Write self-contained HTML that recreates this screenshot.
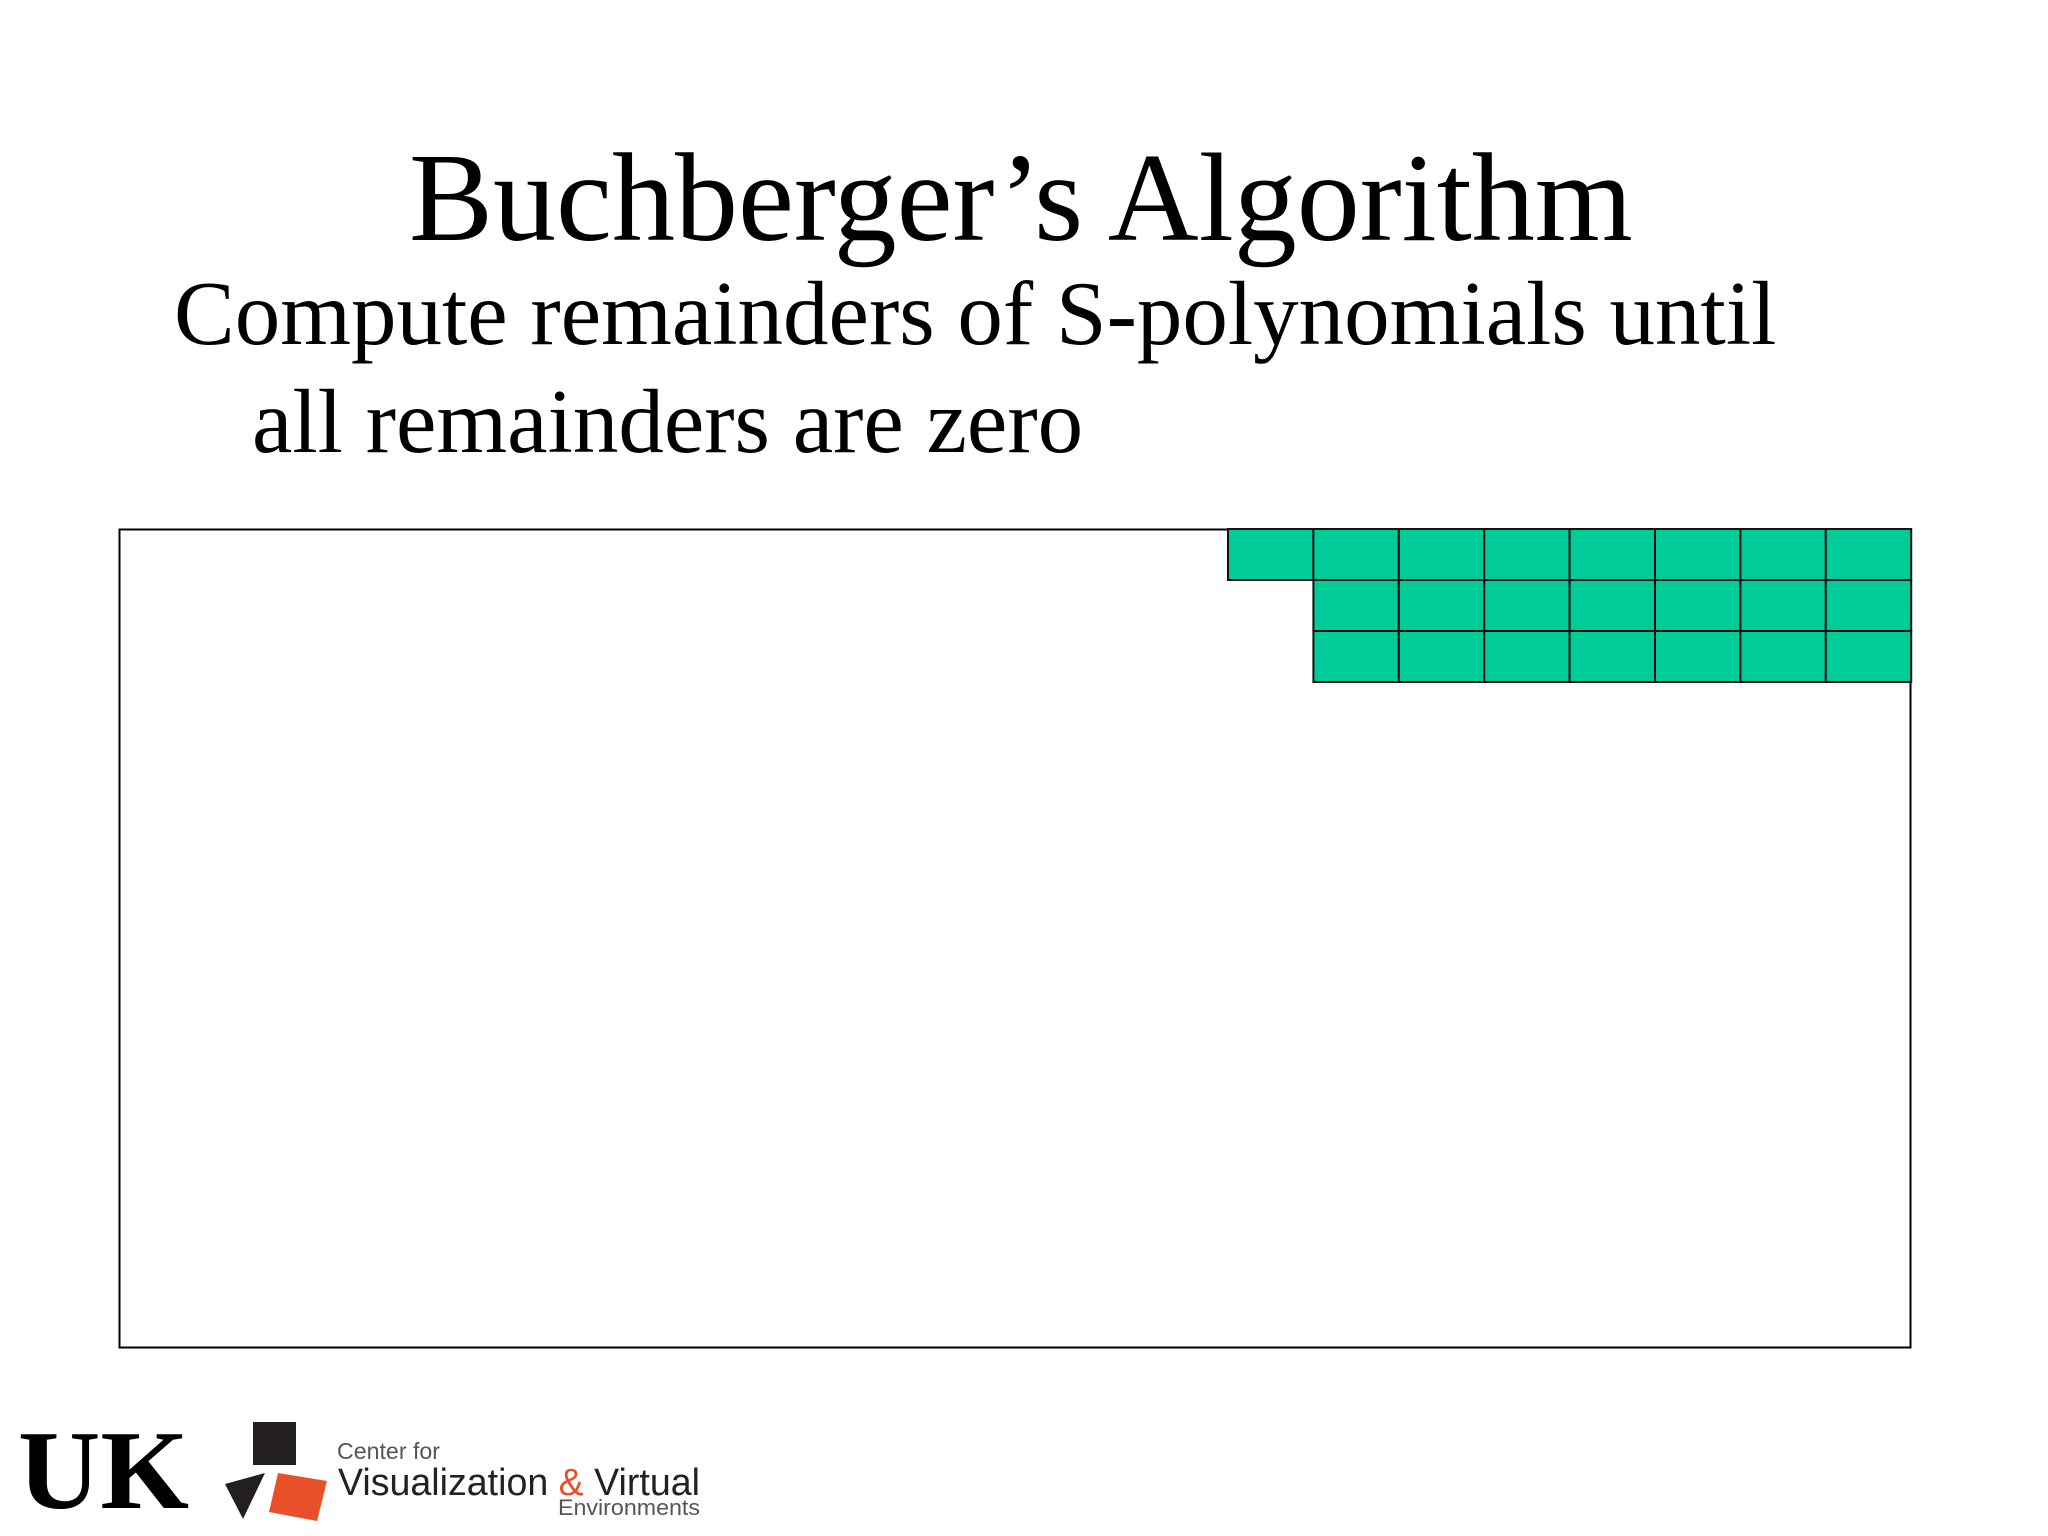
<!DOCTYPE html>
<html><head><meta charset="utf-8">
<style>
html,body{margin:0;padding:0;background:#fff;}
body{width:2048px;height:1536px;position:relative;overflow:hidden;font-family:"Liberation Serif",serif;}
.t{position:absolute;white-space:nowrap;color:#000;}
</style></head>
<body>
<div class="t" style="left:409px;top:124px;font-size:126px;line-height:150px;">Buchberger’s Algorithm</div>
<div class="t" style="left:174px;top:259px;font-size:91px;line-height:110px;">Compute remainders of S-polynomials until</div>
<div class="t" style="left:252px;top:367px;font-size:91px;line-height:110px;">all remainders are zero</div>

<svg id="chart" width="2048" height="1536" style="position:absolute;left:0;top:0;">
  <rect x="119.5" y="529.5" width="1791" height="818" fill="none" stroke="#000" stroke-width="2"/>
  <g id="cells"></g>
</svg>

<svg width="720" height="136" style="position:absolute;left:0;top:1400px;">
  <text x="18" y="108" font-family="Liberation Serif,serif" font-weight="bold" font-size="112" textLength="171" lengthAdjust="spacingAndGlyphs" fill="#000">UK</text>
  <rect x="253" y="22" width="43" height="43" fill="#231f20"/>
  <polygon points="225,84 265,73 243,119" fill="#231f20"/>
  <polygon points="278,73 327,81 317,121 269,112" fill="#e8502a"/>
  <text x="337" y="59" font-family="Liberation Sans,sans-serif" font-size="23" textLength="103" lengthAdjust="spacingAndGlyphs" fill="#555">Center for</text>
  <text x="338" y="95" font-family="Liberation Sans,sans-serif" font-size="38" textLength="362" lengthAdjust="spacingAndGlyphs" fill="#222">Visualization <tspan fill="#e8502a">&amp;</tspan> Virtual</text>
  <text x="558" y="115" font-family="Liberation Sans,sans-serif" font-size="22" textLength="142" lengthAdjust="spacingAndGlyphs" fill="#555">Environments</text>
</svg>

<script>
// grid data: one entry per row — first column index and number of filled cells
const rowIndex = [0, 1, 2];
const rowStartCol = [0, 1, 1];
const rowCellCount = [8, 7, 7];

const x0 = 1228, cellW = 85.4, y0 = 529, cellH = 51;
const xAt = c => x0 + c * cellW;
const yAt = r => y0 + r * cellH;
const g = document.getElementById('cells');
const NS = 'http://www.w3.org/2000/svg';
rowIndex.forEach((r, i) => {
  for (let k = 0; k < rowCellCount[i]; k++) {
    const c = rowStartCol[i] + k;
    const rect = document.createElementNS(NS, 'rect');
    rect.setAttribute('x', xAt(c));
    rect.setAttribute('y', yAt(r));
    rect.setAttribute('width', cellW);
    rect.setAttribute('height', cellH);
    rect.setAttribute('fill', '#00cc99');
    rect.setAttribute('stroke', '#111');
    rect.setAttribute('stroke-width', '2');
    
    
    g.appendChild(rect);
  }
});
</script>
</body></html>
